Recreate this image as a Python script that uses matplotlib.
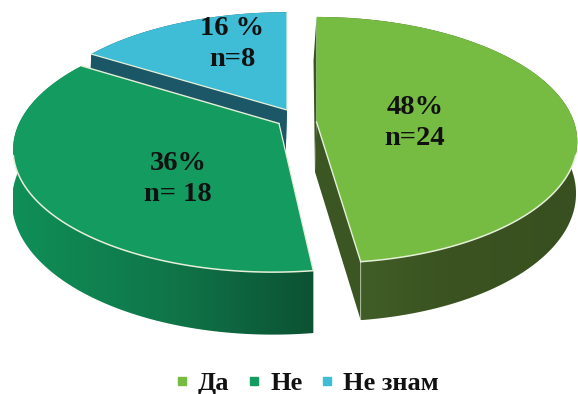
#!/usr/bin/env python3
"""Exploded pseudo-3D pie of survey answers, drawn as polygons in pixel space."""
import numpy as np
import matplotlib.pyplot as plt
from matplotlib.colors import LinearSegmentedColormap
from matplotlib.lines import Line2D
from matplotlib.patches import Polygon

categories = ['Да', 'Не', 'Не знам']
shares = [48, 36, 16]
counts = [24, 18, 8]
value_labels = ['48%\nn=24', '36%\nn= 18', '16 %\nn=8']

TOP = ['#76bc43', '#149b5f', '#3fbdd6']
CUT = ['#3c5623', '#0f5a39', '#1b5766']
WALL = [['#44622a', '#3a5321', '#38501f'], ['#0f8f58', '#10774a', '#0c5233'], ['#1b5766'] * 3]
EDGE = '#e6efd8'

# apex x, apex y, half width, half height, perspective, side depth, front shear
SHAPE = [(316.5, 122, 254, 120.4, 0.146, 50, 7),
         (279, 123.5, 257, 118.9, 0.20, 50, -6),
         (287, 110, 251, 113, 0.155, 50, 0)]
LABEL_POS = [(415, 123), (178, 179), (232, 44)]

W, H = 578, 394
fig = plt.figure(figsize=(W / 100, H / 100), dpi=100)
ax = fig.add_axes([0, 0, 1, 1])


def rim(theta, shape):
    ax0, ay0, a, b, k, depth, shear = shape
    u, v = np.sin(theta), np.cos(theta)
    s = 1 + k * v
    x = ax0 + a * u / s + shear * (1 - v) / 2
    y = ay0 - b * v / s
    return x, y, x - 1.5 * (1 + v), y + depth / s


edges = np.radians(np.cumsum([0] + shares) * 3.6)

# back wedges first, the front-left one goes last so it hides the dark cut
for i in [2, 0, 1]:
    shape = SHAPE[i]
    ax0, ay0, depth = shape[0], shape[1], shape[5]
    th = np.linspace(edges[i], edges[i + 1], 160)
    x, y, xb, yb = rim(th, shape)

    for j in (0, -1):
        ax.fill([ax0, x[j], xb[j], ax0 - 1.5], [ay0, y[j], yb[j], ay0 + depth],
                color=CUT[i], lw=0, zorder=1)

    # outer wall: horizontal gradient clipped to the wall outline
    wall = Polygon(np.c_[np.r_[x, xb[::-1]], np.r_[y, yb[::-1]]], closed=True,
                   transform=ax.transData, fc='none', ec='none')
    ax.add_patch(wall)
    cmap = LinearSegmentedColormap.from_list('wall', WALL[i])
    im = ax.imshow(np.linspace(0, 1, 256)[None, :], cmap=cmap, aspect='auto', zorder=1,
                   extent=(x.min(), x.max(), max(yb.max(), y.max()), min(y.min(), yb.min())))
    im.set_clip_path(wall)

    ax.fill(np.r_[ax0, x], np.r_[ay0, y], color=TOP[i], lw=0, zorder=1)

    # light seam along the visible front of the top face
    if i != 2:
        front = np.cos(th) < -0.25
        ax.plot(x[front], y[front], color=EDGE, lw=1.1, zorder=1)
    if i == 0:
        ax.plot([ax0, x[-1]], [ay0, y[-1]], color=EDGE, lw=1.0, zorder=1)
        ax.plot([x[-1], xb[-1]], [y[-1], yb[-1]], color=EDGE, lw=0.6, alpha=0.7, zorder=1)
    if i == 1:
        ax.plot([x[0], ax0], [y[0], ay0], color=EDGE, lw=0.9, zorder=1)
        ax.plot([x[-1], ax0], [y[-1], ay0], color=EDGE, lw=1.0, zorder=1)
    if i == 2:
        ax.plot([x[0], ax0, x[-1]], [y[0], ay0, y[-1]], color=EDGE, lw=0.9, zorder=1)

ax.set_xlim(0, W)
ax.set_ylim(H, 0)
ax.axis('off')

serif = ['Liberation Serif', 'DejaVu Serif']
for pos, text in zip(LABEL_POS, value_labels):
    ax.text(pos[0], pos[1], text, ha='center', va='center', family=serif,
            fontweight='bold', fontsize=20.5, linespacing=1.36, color='#111111', zorder=5)

handles = [Line2D([], [], ls='none', marker='s', ms=5.8, color=c, label=n)
           for c, n in zip(TOP, categories)]
ax.legend(handles=handles, ncol=3, frameon=False, loc='center', bbox_to_anchor=(307 / W, 1 - 383 / H),
          prop={'family': serif, 'weight': 'bold', 'size': 19}, handlelength=0.5,
          handletextpad=0.35, columnspacing=0.7, labelcolor='#111111')

fig.savefig('out.png', dpi=100)
